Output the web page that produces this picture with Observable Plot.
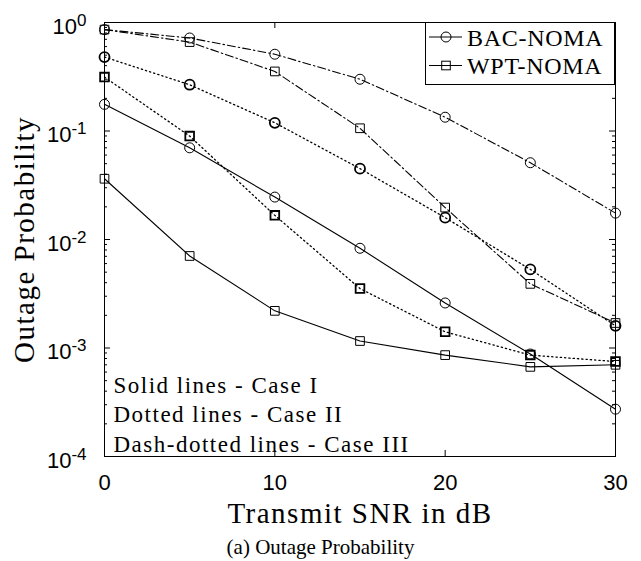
<!DOCTYPE html>
<html>
<head>
<meta charset="utf-8">
<script src="https://cdn.jsdelivr.net/npm/d3@7"></script>
<script src="https://cdn.jsdelivr.net/npm/@observablehq/plot@0.6"></script>
<style>
  html, body { margin: 0; padding: 0; background: #fff; }
  #wrap { position: relative; width: 641px; height: 561px; background: #fff; }
  #caption { position: absolute; left: 0; top: 525px; width: 641px; text-align: center;
    font-family: "Liberation Serif", serif; font-size: 21px; line-height: 24px; padding-top: 10px; box-sizing: border-box; }
  #legend { position: absolute; left: 425px; top: 22px; }
</style>
</head>
<body>
<div id="wrap"></div>
<script>
// ---- data ----
const snr = [0, 5, 10, 15, 20, 25, 30];
const bacCase1 = [0.176, 0.070, 0.0246, 0.0083, 0.0026, 0.00088, 0.000273];
const wptCase1 = [0.0363, 0.00705, 0.0022, 0.00116, 0.00086, 0.00067, 0.0007];
const bacCase2 = [0.48, 0.267, 0.119, 0.045, 0.0159, 0.0053, 0.0016];
const wptCase2 = [0.314, 0.0898, 0.0167, 0.00353, 0.00141, 0.00086, 0.00075];
const bacCase3 = [0.86, 0.72, 0.51, 0.30, 0.134, 0.051, 0.0175];
const wptCase3 = [0.86, 0.66, 0.354, 0.106, 0.0197, 0.0039, 0.0017];
const schemes = ["BAC-NOMA", "WPT-NOMA"];
const cases = ["I", "II", "III"];
const xTicks = [0, 10, 20, 30];
const yTicks = [1e-4, 1e-3, 1e-2, 1e-1, 1];
const caseNotes = ["Solid lines - Case I", "Dotted lines - Case II", "Dash-dotted lines - Case III"];
const xLabel = "Transmit SNR in dB";
const yLabel = "Outage Probability";
const captionText = "(a) Outage Probability";

// ---- build table ----
const seriesList = [
  {scheme: schemes[0], caseId: "I", values: bacCase1},
  {scheme: schemes[1], caseId: "I", values: wptCase1},
  {scheme: schemes[0], caseId: "II", values: bacCase2},
  {scheme: schemes[1], caseId: "II", values: wptCase2},
  {scheme: schemes[0], caseId: "III", values: bacCase3},
  {scheme: schemes[1], caseId: "III", values: wptCase3}
];
const rows = seriesList.flatMap(s => snr.map((x, i) => ({snr: x, p: s.values[i], scheme: s.scheme, caseId: s.caseId})));

const dashOf = {I: null, II: "1.3,3", III: "8,3,1.5,3"};
const lineWidthOf = {I: 1.1, II: 1.3, III: 1.1};
const markerWidthOf = {I: 1, II: 1.8, III: 1};
const symbolOf = {"BAC-NOMA": "circle", "WPT-NOMA": "square"};
const rOf = {"BAC-NOMA": 5, "WPT-NOMA": 4.9};

const W = 641, H = 525, ML = 104, MR = 26, MT = 22, MB = 69;
const FW = W - ML - MR, FH = H - MT - MB;
const minorTicks = d3.scaleLog().domain([1e-4, 1]).ticks().filter(v => !yTicks.some(t => Math.abs(t - v) / t < 1e-9));

const serif = "Liberation Serif";
const marks = [
  Plot.frame({stroke: "#000", strokeWidth: 1}),
  Plot.tickY(yTicks, {y: d => d, stroke: "#000", insetRight: FW - 6}),
  Plot.tickY(yTicks, {y: d => d, stroke: "#000", insetLeft: FW - 6}),
  Plot.tickY(minorTicks, {y: d => d, stroke: "#000", insetRight: FW - 3}),
  Plot.tickY(minorTicks, {y: d => d, stroke: "#000", insetLeft: FW - 3}),
  Plot.tickX(xTicks, {x: d => d, stroke: "#000", insetTop: FH - 6}),
  Plot.tickX(xTicks, {x: d => d, stroke: "#000", insetBottom: FH - 6}),
  Plot.axisX({ticks: xTicks, tickSize: 0, tickPadding: 18, label: null, fontSize: 22, fontFamily: "Liberation Sans"}),
  Plot.axisY({ticks: yTicks, tickSize: 0, tickPadding: 18, label: null, fontSize: 22, fontFamily: "Liberation Sans",
    tickFormat: d => String(Math.round(Math.log10(d)))})
];
for (const c of cases) {
  const sub = rows.filter(d => d.caseId === c);
  marks.push(Plot.line(sub, {x: "snr", y: "p", z: "scheme", stroke: "#000", strokeWidth: lineWidthOf[c], strokeDasharray: dashOf[c]}));
}
for (const c of cases) {
  for (const s of schemes) {
    const sub = rows.filter(d => d.caseId === c && d.scheme === s);
    marks.push(Plot.dot(sub, {x: "snr", y: "p", symbol: symbolOf[s], r: rOf[s], stroke: "#000", fill: "none", strokeWidth: markerWidthOf[c]}));
  }
}
marks.push(
  Plot.text([caseNotes.join("\n")], {frameAnchor: "bottom-left", lineAnchor: "bottom", textAnchor: "start", dx: 9, dy: -5,
    lineHeight: 1.28, fontSize: 23, fontFamily: serif, fill: "#000"}),
  Plot.text([xLabel], {frameAnchor: "bottom", lineAnchor: "middle", textAnchor: "middle", dy: 57, fontSize: 29, fontFamily: serif, fill: "#000"}),
  Plot.text([yLabel], {frameAnchor: "left", lineAnchor: "middle", textAnchor: "middle", rotate: -90, dx: -80, fontSize: 29, fontFamily: serif, fill: "#000"})
);

const chart = Plot.plot({
  width: W, height: H, marginLeft: ML, marginRight: MR, marginTop: MT, marginBottom: MB,
  x: {domain: [0, 30]},
  y: {type: "log", domain: [1e-4, 1]},
  style: {fontFamily: "Liberation Sans", fontSize: "22px", color: "#000", background: "#fff", overflow: "visible"},
  marks
});

// superscript exponents on y tick labels
chart.querySelectorAll('g[aria-label="y-axis tick label"] text').forEach(t => {
  const e = t.textContent;
  t.textContent = "";
  t.setAttribute("y", "0");
  const base = document.createElementNS("http://www.w3.org/2000/svg", "tspan");
  base.setAttribute("dy", "11");
  base.textContent = "10";
  const sup = document.createElementNS("http://www.w3.org/2000/svg", "tspan");
  sup.setAttribute("dy", "-8");
  sup.setAttribute("font-size", "17");
  sup.textContent = e;
  t.appendChild(base);
  t.appendChild(sup);
});

// letter spacing to approximate the wider Computer Modern face
chart.querySelectorAll("text").forEach(t => {
  const s = t.textContent;
  if (s === xLabel || s === yLabel) t.style.letterSpacing = "1.5px";
  else if (s.startsWith("Solid")) t.style.letterSpacing = "1.5px";
});

const wrap = document.getElementById("wrap");
wrap.appendChild(chart);

// legend
const lg = d3.select(wrap).append("svg").attr("id", "legend").attr("width", 191).attr("height", 64);
lg.append("rect").attr("x", 0.5).attr("y", 0.5).attr("width", 189).attr("height", 62)
  .attr("fill", "#fff").attr("stroke", "#000").attr("stroke-width", 1);
schemes.forEach((s, i) => {
  const cy = 15 + i * 28.5;
  lg.append("line").attr("x1", 4).attr("x2", 37).attr("y1", cy).attr("y2", cy).attr("stroke", "#000").attr("stroke-width", 1);
  if (symbolOf[s] === "circle") {
    lg.append("circle").attr("cx", 21).attr("cy", cy).attr("r", 5).attr("fill", "none").attr("stroke", "#000");
  } else {
    lg.append("rect").attr("x", 21 - 4.3).attr("y", cy - 4.3).attr("width", 8.6).attr("height", 8.6).attr("fill", "none").attr("stroke", "#000");
  }
  lg.append("text").attr("x", 42).attr("y", cy + 8.5).text(s)
    .attr("font-family", serif).attr("font-size", 24).attr("letter-spacing", "0.7px").attr("fill", "#000");
});

const cap = document.createElement("div");
cap.id = "caption";
cap.textContent = captionText;
wrap.appendChild(cap);
</script>
</body>
</html>
